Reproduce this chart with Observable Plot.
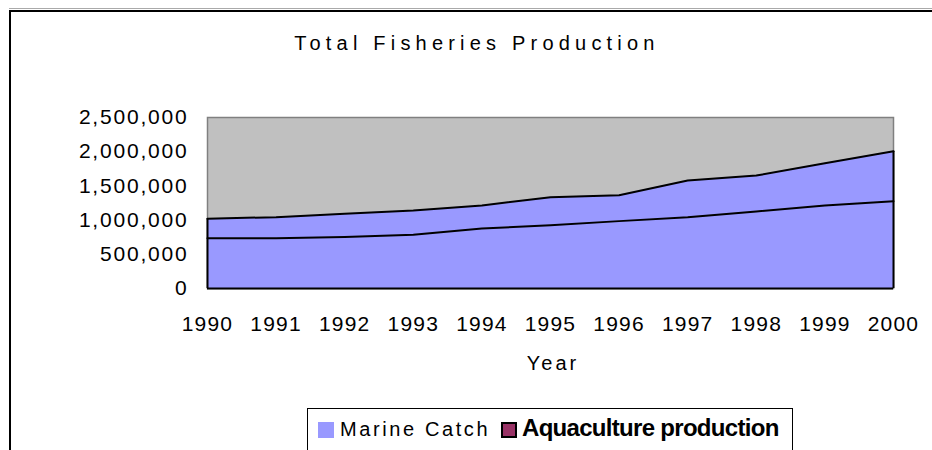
<!DOCTYPE html>
<html>
<head>
<meta charset="utf-8">
<script src="https://cdn.jsdelivr.net/npm/d3@7"></script>
<script src="https://cdn.jsdelivr.net/npm/@observablehq/plot@0.6"></script>
<style>
  html, body { margin: 0; padding: 0; background: #fff; }
  #wrap { position: relative; width: 932px; height: 450px; overflow: hidden; font-family: "Liberation Sans", Arial, sans-serif; }
  #frame { position: absolute; left: 9px; top: 10px; width: 940px; height: 460px; border-left: 2px solid #000; border-top: 2px solid #000; box-sizing: border-box; }
  #topline { position: absolute; left: 9px; top: 8px; width: 930px; height: 1px; background: #aaa; }
  #title { position: absolute; left: 2px; width: 950px; top: 32px; text-align: center; font-size: 20px; letter-spacing: 5.2px; color: #000; }
  #xlabel { position: absolute; left: 553px; top: 352px; transform: translateX(-50%); font-size: 20px; letter-spacing: 3px; color: #000; }
  #legend { position: absolute; left: 307px; top: 408px; width: 486px; height: 60px; border: 1.5px solid #000; background: #fff; box-sizing: border-box; }
  .sw { position: absolute; top: 13px; width: 16px; height: 16px; box-sizing: border-box; }
  .lt { position: absolute; top: 9px; white-space: nowrap; color: #000; }
  svg { position: absolute; left: 0; top: 0; }
  #chart g[aria-label="y-axis tick label"] text { letter-spacing: 1.8px; }
  #chart g[aria-label="x-axis tick label"] text { letter-spacing: 1.2px; }
</style>
</head>
<body>
<div id="wrap">
  <div id="topline"></div>
  <div id="frame"></div>
  <div id="chart"></div>
  <div id="title">Total Fisheries Production</div>
  <div id="xlabel">Year</div>
  <div id="legend"></div>
</div>
<script>
const years = [1990, 1991, 1992, 1993, 1994, 1995, 1996, 1997, 1998, 1999, 2000];
const marineCatch = [733000, 733000, 752000, 787000, 878000, 925000, 985000, 1043000, 1126000, 1213000, 1276000];
const aquaculture = [287000, 310000, 340000, 354000, 335000, 410000, 379000, 535000, 525000, 617000, 729000];
const seriesNames = ["Marine Catch", "Aquaculture production"];
const yTicks = [0, 500000, 1000000, 1500000, 2000000, 2500000];
const areaColor = "#9999FF";
const legendColors = ["#9999FF", "#993366"];

const rows = [];
years.forEach((y, i) => rows.push({year: y, series: seriesNames[0], value: marineCatch[i]}));
years.forEach((y, i) => rows.push({year: y, series: seriesNames[1], value: aquaculture[i]}));
const totals = years.map((y, i) => ({year: y, total: marineCatch[i] + aquaculture[i]}));
const edges = [totals[0], totals[totals.length - 1]];

const chart = Plot.plot({
  width: 932,
  height: 450,
  marginLeft: 207,
  marginRight: 39,
  marginTop: 117,
  marginBottom: 162,
  style: {fontFamily: "'Liberation Sans', Arial, sans-serif", fontSize: "21px", color: "#000", background: "transparent"},
  x: {type: "linear", domain: [1990, 2000], label: null},
  y: {domain: [0, 2500000], label: null},
  marks: [
    Plot.frame({fill: "#C0C0C0", stroke: "#808080", strokeWidth: 1.5}),
    Plot.areaY(rows, Plot.stackY({x: "year", y: "value", z: "series", fill: areaColor, order: null})),
    Plot.lineY(rows, Plot.stackY2({x: "year", y: "value", z: "series", stroke: "#000", strokeWidth: 2, order: null})),
    Plot.ruleX(edges, {x: "year", y1: 0, y2: "total", stroke: "#000", strokeWidth: 2}),
    Plot.ruleY([0], {stroke: "#000", strokeWidth: 2}),
    Plot.axisX({ticks: years, tickFormat: d => String(d), tickSize: 0, tickPadding: 28, fontSize: 21, label: null}),
    Plot.axisY({ticks: yTicks, tickFormat: d3.format(","), tickSize: 0, tickPadding: 19, fontSize: 21, label: null})
  ]
});
document.getElementById("chart").appendChild(chart);

const legend = document.getElementById("legend");
const items = [
  {swLeft: 10, txtLeft: 32, name: seriesNames[0], color: legendColors[0], border: "none", style: "font-size:20px;letter-spacing:2.6px;"},
  {swLeft: 193, txtLeft: 214, name: seriesNames[1], color: legendColors[1], border: "2px solid #000", style: "font-size:24px;font-weight:bold;letter-spacing:-0.7px;top:5px;"}
];
items.forEach(it => {
  const sw = document.createElement("div");
  sw.className = "sw";
  sw.style.left = it.swLeft + "px";
  sw.style.background = it.color;
  sw.style.border = it.border;
  legend.appendChild(sw);
  const t = document.createElement("div");
  t.className = "lt";
  t.style.cssText = it.style;
  t.style.left = it.txtLeft + "px";
  t.textContent = it.name;
  legend.appendChild(t);
});
</script>
</body>
</html>
